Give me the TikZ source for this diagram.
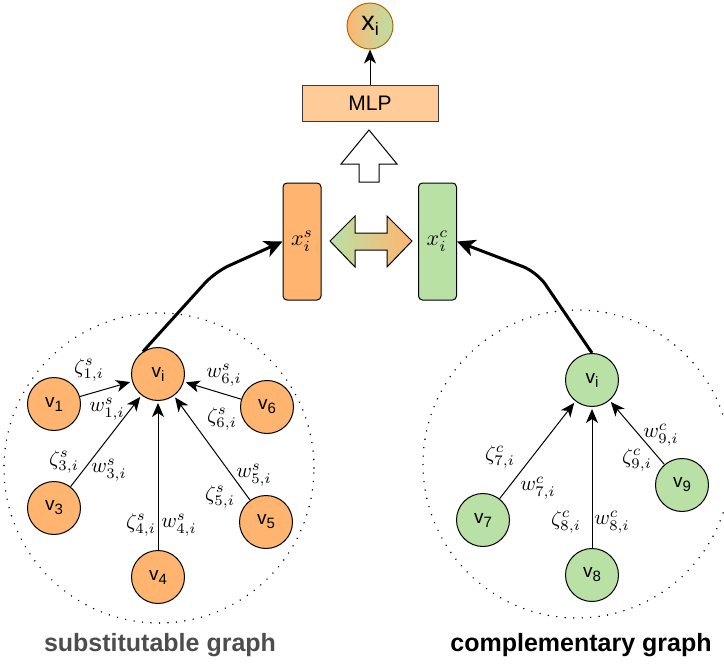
\documentclass[tikz,border=0pt]{standalone}
\usepackage[no-math]{fontspec}
\setmainfont{Liberation Sans}
\usetikzlibrary{arrows.meta}
\definecolor{orangeF}{HTML}{FFB570}
\definecolor{greenF}{HTML}{B9E0A5}
\definecolor{mlpF}{HTML}{FFCC99}
\definecolor{mlpD}{HTML}{36393D}
\definecolor{topD}{HTML}{B46504}
\definecolor{titleG}{HTML}{4D4D4D}
\newcommand\vsub[1]{\raisebox{-4pt}{\fontsize{15}{15}\selectfont#1}}
\newcommand\ml[1]{\scalebox{2.1}{$#1$}}
\newcommand\mlb[1]{\scalebox{2.2}{$#1$}}
\begin{document}
\begin{tikzpicture}[x=1pt,y=-1pt,
  vnode/.style={circle,draw=black,line width=1pt,minimum size=53pt,inner sep=0pt,font=\fontsize{19}{20}\selectfont},
  onode/.style={vnode,fill=orangeF},
  gnode/.style={vnode,fill=greenF},
  edge/.style={-{Stealth[length=14pt,width=12pt,inset=4pt]},line width=1pt,shorten >=2pt},
  bigedge/.style={-{Stealth[length=18pt,width=17pt,inset=5pt]},line width=3pt,rounded corners=15pt},
  lab/.style={inner sep=0pt},
  dotcirc/.style={line width=1.6pt,dash pattern=on 0pt off 8.5pt,line cap=round},
  embbox/.style={draw=black,line width=1pt,rounded corners=4pt,minimum width=38pt,minimum height=117pt,inner sep=0pt},
  title/.style={font=\bfseries\fontsize{25}{27}\selectfont,inner sep=0pt},
  ]
\useasboundingbox (0,0) rectangle (724,664);

% dotted groups
\draw[dotcirc] (159,468) circle (155pt);
\draw[dotcirc] (577,464) circle (154pt);

% top part
\node[circle,draw=topD,line width=1pt,left color=orangeF,right color=greenF,minimum size=46pt,inner sep=0pt,font=\fontsize{27}{27}\selectfont] (xi) at (370,26) {x\raisebox{-5pt}{\fontsize{18}{18}\selectfont i}};
\node[draw=mlpD,line width=1pt,fill=mlpF,minimum width=136pt,minimum height=36pt,inner sep=0pt,font=\fontsize{21}{22}\selectfont] (mlp) at (370,103) {MLP};
\draw[edge,shorten >=0pt] (mlp) -- (xi);

% hollow up arrow
\draw[line width=1pt,fill=white] (341,164) -- (369,130) -- (397,164) -- (379,164) -- (379,182) -- (359,182) -- (359,164) -- cycle;

% embedding boxes
\node[embbox,fill=orangeF] (xs) at (302,241.5) {\mlb{x_i^s}};
\node[embbox,fill=greenF] (xc) at (437.5,241.5) {\mlb{x_i^c}};

% double arrow
\shade[left color=greenF,right color=orangeF,draw=black,line width=1pt]
  (330,241) -- (355,216) -- (355,233) -- (387,233) -- (387,216) -- (412,241) -- (387,267) -- (387,250) -- (355,250) -- (355,267) -- cycle;

% substitutable graph
\node[onode] (lvi) at (158,374) {v\vsub{i}};
\node[onode] (v1) at (54,404) {v\vsub{1}};
\node[onode] (v6) at (267,407) {v\vsub{6}};
\node[onode] (v3) at (54,508) {v\vsub{3}};
\node[onode] (v5) at (266,522) {v\vsub{5}};
\node[onode] (v4) at (158,577) {v\vsub{4}};
\draw[edge] (v1) -- (lvi);
\draw[edge] (v3) -- (lvi);
\draw[edge] (v4) -- (lvi);
\draw[edge] (v5) -- (lvi);
\draw[edge] (v6) -- (lvi);
\node[lab] (z1) at (89,370) {\ml{\zeta^s_{1,i}}};
\node[lab] (w1) at (107,409) {\ml{w^s_{1,i}}};
\node[lab] (z3) at (64,462) {\ml{\zeta^s_{3,i}}};
\node[lab] (w3) at (109,470) {\ml{w^s_{3,i}}};
\node[lab] (z4) at (141,525) {\ml{\zeta^s_{4,i}}};
\node[lab] (w4) at (179,525) {\ml{w^s_{4,i}}};
\node[lab] (z5) at (220,497) {\ml{\zeta^s_{5,i}}};
\node[lab] (w5) at (254,475) {\ml{w^s_{5,i}}};
\node[lab] (z6) at (222,419) {\ml{\zeta^s_{6,i}}};
\node[lab] (w6) at (224,375) {\ml{w^s_{6,i}}};
\draw[bigedge] (lvi.124) -- (215,272) -- (xs.west);

% complementary graph
\node[gnode] (rvi) at (592,380) {v\vsub{i}};
\node[gnode] (v7) at (483,520) {v\vsub{7}};
\node[gnode] (v8) at (592,575) {v\vsub{8}};
\node[gnode] (v9) at (682,485) {v\vsub{9}};
\draw[edge] (v7) -- (rvi);
\draw[edge] (v8) -- (rvi);
\draw[edge] (v9) -- (rvi);
\node[lab] (z7) at (500,457) {\ml{\zeta^c_{7,i}}};
\node[lab] (w7) at (538,488) {\ml{w^c_{7,i}}};
\node[lab] (z8) at (566,522) {\ml{\zeta^c_{8,i}}};
\node[lab] (w8) at (612,522) {\ml{w^c_{8,i}}};
\node[lab] (w9) at (661,435) {\ml{w^c_{9,i}}};
\node[lab] (z9) at (637,460) {\ml{\zeta^c_{9,i}}};
\draw[bigedge] (rvi.north) -- (537,272) -- (xc.east);

% titles
\node[title,text=titleG] (t1) at (160,645) {substitutable graph};
\node[title,text=black] (t2) at (581,645) {complementary graph};
\end{tikzpicture}
\end{document}
